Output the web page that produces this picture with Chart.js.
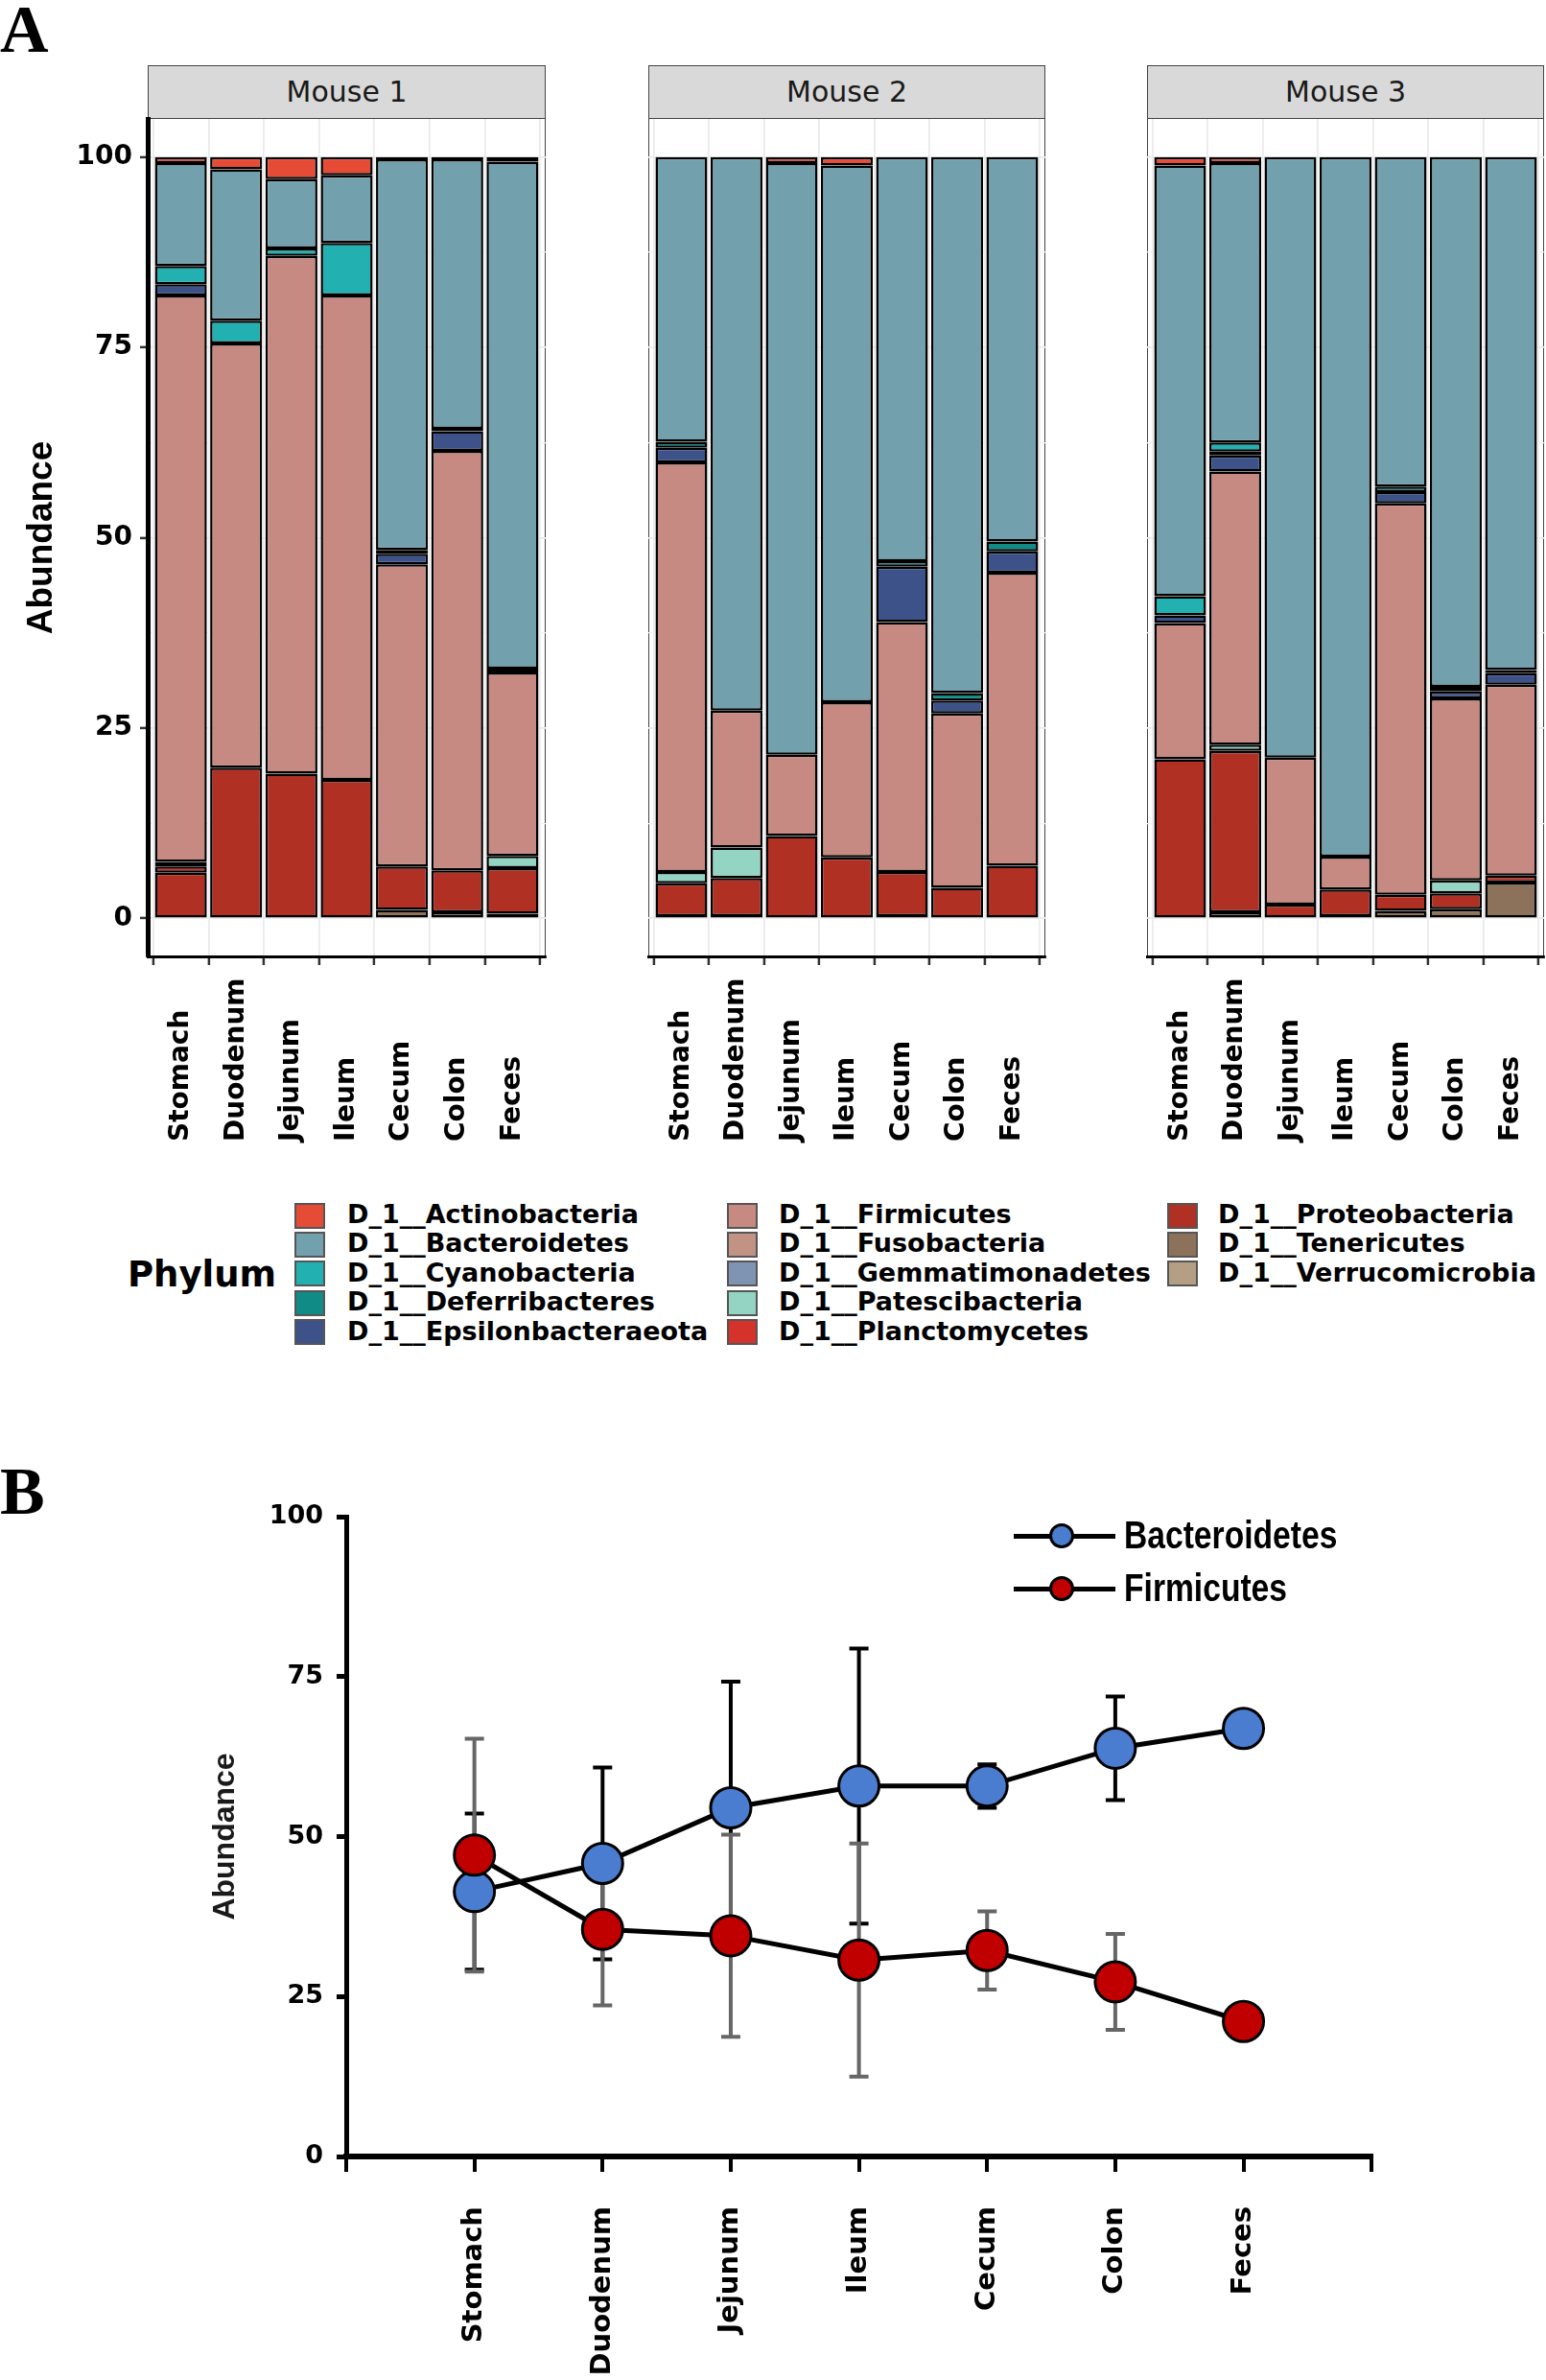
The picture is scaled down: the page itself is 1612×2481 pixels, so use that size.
<!DOCTYPE html>
<html>
<head>
<meta charset="utf-8">
<script src="https://cdn.jsdelivr.net/npm/chart.js@4.4.0/dist/chart.umd.min.js"></script>
<style>
    body { margin: 0; background: #fff; width: 1612px; height: 2481px; position: relative; overflow: hidden; font-family: 'DejaVu Sans', sans-serif; }
    .abs { position: absolute; }
    .tag { font-family: 'Liberation Serif', serif; font-weight: bold; font-size: 70px; line-height: 1; color: #000; }
    .panel { border: 1.5px solid #444; box-sizing: border-box; background: #fff; }
    .strip { background: #d9d9d9; border: 1.5px solid #444; box-sizing: border-box; text-align: center; font-size: 30px; color: #1a1a1a; line-height: 53px; }
    .swatch { width: 32px; height: 27px; border: 2px solid #555; box-sizing: border-box; }
    .legText { font-weight: bold; font-size: 27px; line-height: 30px; color: #000; white-space: nowrap; }
    .legB { font-family: 'Liberation Sans', sans-serif; font-weight: bold; font-size: 41px; line-height: 44px; color: #000; white-space: nowrap; transform: scaleX(0.82); transform-origin: left center; }
    canvas { position: absolute; }
</style>
</head>
<body>
<div class="abs tag" style="left:0px;top:-4px">A</div>
<div class="abs tag" style="left:0px;top:1520px">B</div>

<div id="panelsA"></div>
<canvas id="mouse1" width="600" height="1110" style="left:0px;top:94px"></canvas>
<canvas id="mouse2" width="454" height="1110" style="left:656px;top:94px"></canvas>
<canvas id="mouse3" width="436" height="1110" style="left:1176px;top:94px"></canvas>

<div class="abs" style="left:133px;top:1308px;font-weight:bold;font-size:37px;line-height:42px">Phylum</div>
<div id="legendA"></div>

<canvas id="lineChart" width="1301" height="941" style="left:200px;top:1540px"></canvas>
<div id="legendB"></div>

<script>
    // Categorias e séries
    const tissues = ['Stomach', 'Duodenum', 'Jejunum', 'Ileum', 'Cecum', 'Colon', 'Feces'];
    const mice = ['Mouse 1', 'Mouse 2', 'Mouse 3'];
    const phyla = [
        'D_1__Actinobacteria', 'D_1__Bacteroidetes', 'D_1__Cyanobacteria', 'D_1__Deferribacteres',
        'D_1__Epsilonbacteraeota', 'D_1__Firmicutes', 'D_1__Fusobacteria', 'D_1__Gemmatimonadetes',
        'D_1__Patescibacteria', 'D_1__Planctomycetes', 'D_1__Proteobacteria', 'D_1__Tenericutes',
        'D_1__Verrucomicrobia'
    ];
    const phylumColors = [
        '#e64b35', '#72a1ad', '#22b1b0', '#108b85', '#3c5289', '#c68a82', '#c19384',
        '#7f93b3', '#93d4c3', '#d4322b', '#b03024', '#8c725b', '#b49f85'
    ];

    // Abundância relativa (%) - uma linha de 7 tecidos por camundongo
    const actinobacteria     = [[0.8, 1.6, 2.9, 2.4, 0.3, 0.3, 0.6], [0, 0, 0.8, 1.1, 0, 0, 0], [1.1, 0.8, 0, 0, 0, 0, 0]];
    const bacteroidetes      = [[13.5, 19.9, 9.1, 8.9, 51.3, 35.4, 66.6], [37.4, 72.7, 77.7, 70.5, 53.1, 70.4, 50.5], [56.6, 36.7, 78.9, 91.9, 43.3, 69.6, 67.4]];
    const cyanobacteria      = [[2.4, 3.0, 1.0, 6.9, 0, 0, 0], [0, 0, 0, 0, 0, 0, 0], [2.5, 1.2, 0, 0, 0, 0.6, 0]];
    const deferribacteres    = [[0, 0, 0, 0, 0.5, 0.3, 0.5], [0.8, 0, 0, 0, 0.7, 1.0, 1.3], [0, 0.5, 0, 0, 0.7, 0, 0.4]];
    const epsilonbacteraeota = [[1.5, 0, 0, 0, 1.4, 2.6, 0], [1.9, 0, 0, 0, 7.3, 1.7, 2.8], [1.0, 2.1, 0, 0, 1.5, 0.9, 1.5]];
    const firmicutes         = [[74.4, 55.7, 68.0, 63.6, 39.7, 55.1, 24.1], [53.8, 18.0, 10.7, 20.4, 32.8, 22.9, 38.5], [17.9, 35.9, 19.3, 4.3, 51.4, 23.9, 25.1]];
    const fusobacteria       = [[0.6, 0, 0, 0, 0, 0, 0], [0, 0, 0, 0, 0, 0, 0], [0, 0, 0, 0, 0, 0, 0]];
    const gemmatimonadetes   = [[0, 0, 0, 0, 0, 0, 0], [0, 0, 0, 0, 0, 0, 0], [0, 0, 0, 0, 0, 0, 0]];
    const patescibacteria    = [[0, 0, 0, 0, 0, 0, 1.6], [1.5, 4.0, 0, 0, 0, 0, 0], [0, 0.8, 0, 0, 0, 1.7, 0]];
    const planctomycetes     = [[0.8, 0, 0, 0, 0, 0, 0], [0, 0, 0, 0, 0, 0, 0], [0, 0, 0, 0, 0, 0, 0]];
    const proteobacteria     = [[6.0, 19.8, 19.0, 18.2, 5.7, 5.5, 6.0], [4.3, 5.0, 10.8, 8.0, 5.8, 4.0, 6.9], [20.9, 21.2, 1.8, 3.5, 2.1, 2.1, 0.9]];
    const tenericutes        = [[0, 0, 0, 0, 1.1, 0.8, 0.6], [0.3, 0.3, 0, 0, 0.3, 0, 0], [0, 0.8, 0, 0.3, 1.0, 1.2, 4.7]];
    const verrucomicrobia    = [[0, 0, 0, 0, 0, 0, 0], [0, 0, 0, 0, 0, 0, 0], [0, 0, 0, 0, 0, 0, 0]];

    const phylumValues = [actinobacteria, bacteroidetes, cyanobacteria, deferribacteres, epsilonbacteraeota,
        firmicutes, fusobacteria, gemmatimonadetes, patescibacteria, planctomycetes, proteobacteria,
        tenericutes, verrucomicrobia];

    const yTicksA = [0, 12.5, 25, 37.5, 50, 62.5, 75, 87.5, 100];

    // Painel B: média e desvio
    const lineSeries = ['Bacteroidetes', 'Firmicutes'];
    const lineColors = ['#4a7dd0', '#c00000'];
    const bactMean = [41.4, 45.8, 54.5, 57.9, 57.9, 63.8, 66.9];
    const bactSD   = [12.2, 15.0, 19.7, 21.5, 3.4, 8.1, 0];
    const firmMean = [47.1, 35.5, 34.5, 30.7, 32.2, 27.3, 21.1];
    const firmSD   = [18.2, 11.9, 15.8, 18.2, 6.1, 7.5, 0];
    const yTicksB = [0, 25, 50, 75, 100];

    // Posições dos painéis (facetas)
    const panelLeft = [154, 676, 1196];
    const panelRight = [569, 1090, 1610];

    let html = '';
    mice.forEach((m, i) => {
        const w = panelRight[i] - panelLeft[i];
        html += `<div class="abs strip" style="left:${panelLeft[i]}px;top:68px;width:${w}px;height:57px">${m}</div>`;
        html += `<div class="abs panel" style="left:${panelLeft[i]}px;top:123px;width:${w}px;height:875px"></div>`;
    });
    document.getElementById('panelsA').innerHTML = html;

    // Legenda do painel A
    const legCols = [[307, 362], [758, 812], [1217, 1270]];
    let legHTML = '';
    phyla.forEach((p, i) => {
        const col = Math.floor(i / 5), row = i % 5;
        const cy = 1267 + row * 30.4;
        legHTML += `<div class="abs swatch" style="left:${legCols[col][0]}px;top:${cy - 13.5}px;background:${phylumColors[i]}"></div>`;
        legHTML += `<div class="abs legText" style="left:${legCols[col][1]}px;top:${cy - 16}px">${p}</div>`;
    });
    document.getElementById('legendA').innerHTML = legHTML;

    // Legenda do painel B
    let legB = '';
    lineSeries.forEach((s, i) => {
        const cy = 1601 + i * 55;
        legB += `<div class="abs" style="left:1057px;top:${cy - 2.5}px;width:106px;height:5px;background:#000"></div>`;
        legB += `<div class="abs" style="left:${1107 - 13}px;top:${cy - 13}px;width:26px;height:26px;border-radius:50%;box-sizing:border-box;border:3px solid #000;background:${lineColors[i]}"></div>`;
        legB += `<div class="abs legB" style="left:1172px;top:${cy - 23}px">${s}</div>`;
    });
    document.getElementById('legendB').innerHTML = legB;

    // Rótulos do eixo x alinhados na base (como no ggplot)
    const bottomLabels = {
        id: 'bottomLabels',
        afterDraw(chart) {
            const ctx = chart.ctx;
            const x = chart.scales.x;
            ctx.save();
            ctx.font = 'bold 28px "DejaVu Sans"';
            ctx.fillStyle = '#000';
            ctx.textAlign = 'left';
            ctx.textBaseline = 'middle';
            tissues.forEach((t, i) => {
                ctx.save();
                ctx.translate(x.getPixelForValue(i), chart.height - 14);
                ctx.rotate(-Math.PI / 2);
                ctx.fillText(t, 0, 0);
                ctx.restore();
            });
            ctx.restore();
        }
    };

    function mouseChart(m, canvasId, first, yWidth, padRight) {
        const datasets = [];
        for (let k = phyla.length - 1; k >= 0; k--) {
            datasets.push({
                label: phyla[k],
                data: phylumValues[k][m].map((v, i) => ({ x: i, y: v })).filter(p => p.y > 0),
                backgroundColor: phylumColors[k],
                borderColor: '#000',
                borderWidth: 2.5,
                borderSkipped: false,
                categoryPercentage: 1,
                barPercentage: 0.94
            });
        }
        return new Chart(document.getElementById(canvasId), {
            type: 'bar',
            data: { datasets: datasets },
            options: {
                responsive: false,
                animation: false,
                layout: { padding: { top: 30, right: padRight, left: 0, bottom: 0 } },
                plugins: { legend: { display: false }, tooltip: { enabled: false } },
                scales: {
                    x: {
                        type: 'linear', min: -0.6, max: 6.6, stacked: true, offset: false,
                        afterBuildTicks: s => { s.ticks = tissues.map((t, i) => ({ value: i })); },
                        afterFit: s => { s.height = 207; },
                        grid: { color: '#ebebeb', lineWidth: 1.8, tickColor: '#333', tickLength: 9, tickWidth: 2.5 },
                        border: { display: true, color: '#000', width: 3 },
                        ticks: { display: false }
                    },
                    y: {
                        type: 'linear', min: -5, max: 105, stacked: true,
                        afterBuildTicks: s => { s.ticks = yTicksA.map(v => ({ value: v })); },
                        afterFit: s => { s.width = yWidth; },
                        grid: {
                            color: c => (c.tick && c.tick.value % 25) ? '#f3f3f3' : '#ebebeb',
                            lineWidth: c => (c.tick && c.tick.value % 25) ? 1.2 : 1.8,
                            tickColor: c => (c.tick && c.tick.value % 25 === 0) ? '#333' : 'rgba(0,0,0,0)',
                            tickLength: 8, tickWidth: 2.5, drawTicks: first
                        },
                        border: first ? { display: true, color: '#000', width: 5 } : { display: false },
                        ticks: {
                            display: first, autoSkip: false, padding: 8, color: '#000',
                            font: { family: 'DejaVu Sans', weight: 'bold', size: 28 },
                            callback: v => (v % 25 === 0 ? v : '')
                        },
                        title: first ? {
                            display: true, text: 'Abundance', color: '#000',
                            font: { family: "'Liberation Sans', sans-serif", weight: 'bold', size: 37 },
                            padding: { top: 22, bottom: 0 }
                        } : { display: false }
                    }
                }
            },
            plugins: [bottomLabels]
        });
    }

    mouseChart(0, 'mouse1', true, 154, 31);
    mouseChart(1, 'mouse2', false, 20, 20);
    mouseChart(2, 'mouse3', false, 20, 2);

    // Barras de erro (desvio) desenhadas pelas escalas do gráfico
    const errorBars = {
        id: 'errorBars',
        beforeDatasetsDraw(chart) {
            const ctx = chart.ctx;
            const x = chart.scales.x, y = chart.scales.y;
            [[bactMean, bactSD, '#000'], [firmMean, firmSD, '#666']].forEach(([mean, sd, col]) => {
                ctx.save();
                ctx.strokeStyle = col;
                ctx.lineWidth = 4;
                mean.forEach((v, i) => {
                    if (!sd[i]) return;
                    const px = x.getPixelForValue(i + 1);
                    const top = y.getPixelForValue(v + sd[i]);
                    const bot = y.getPixelForValue(v - sd[i]);
                    ctx.beginPath();
                    ctx.moveTo(px, top); ctx.lineTo(px, bot);
                    ctx.moveTo(px - 10, top); ctx.lineTo(px + 10, top);
                    ctx.moveTo(px - 10, bot); ctx.lineTo(px + 10, bot);
                    ctx.stroke();
                });
                ctx.restore();
            });
        }
    };

    new Chart(document.getElementById('lineChart'), {
        type: 'line',
        data: {
            datasets: [
                {
                    label: 'Firmicutes', order: 0,
                    data: firmMean.map((v, i) => ({ x: i + 1, y: v })),
                    borderColor: '#000', borderWidth: 5,
                    pointRadius: 21, pointBackgroundColor: lineColors[1], pointBorderColor: '#000', pointBorderWidth: 3
                },
                {
                    label: 'Bacteroidetes', order: 1,
                    data: bactMean.map((v, i) => ({ x: i + 1, y: v })),
                    borderColor: '#000', borderWidth: 5,
                    pointRadius: 21, pointBackgroundColor: lineColors[0], pointBorderColor: '#000', pointBorderWidth: 3
                }
            ]
        },
        options: {
            responsive: false,
            animation: false,
            layout: { padding: { top: 41, right: 40, left: 0, bottom: 0 } },
            plugins: { legend: { display: false }, tooltip: { enabled: false } },
            scales: {
                x: {
                    type: 'linear', min: 0, max: 8,
                    afterBuildTicks: s => { s.ticks = [0, 1, 2, 3, 4, 5, 6, 7, 8].map(v => ({ value: v })); },
                    afterFit: s => { s.height = 233; },
                    grid: { drawOnChartArea: false, color: '#000', lineWidth: 4, tickLength: 16 },
                    border: { color: '#000', width: 6 },
                    ticks: {
                        autoSkip: false, minRotation: 90, maxRotation: 90, padding: 36, color: '#000',
                        font: { family: 'DejaVu Sans', weight: 'bold', size: 29 },
                        callback: v => tissues[v - 1] || ''
                    }
                },
                y: {
                    min: 0, max: 100,
                    afterBuildTicks: s => { s.ticks = yTicksB.map(v => ({ value: v })); },
                    afterFit: s => { s.width = 161; },
                    grid: { drawOnChartArea: false, color: '#000', lineWidth: 5, tickLength: 10 },
                    border: { color: '#000', width: 5 },
                    ticks: { padding: 14, color: '#000', font: { family: 'DejaVu Sans', weight: 'bold', size: 27 } },
                    title: {
                        display: true, text: 'Abundance', color: '#1a1a1a',
                        font: { family: "'Liberation Sans', sans-serif", weight: 'bold', size: 32 },
                        padding: { top: 16, bottom: 0 }
                    }
                }
            }
        },
        plugins: [errorBars]
    });
</script>
</body>
</html>
